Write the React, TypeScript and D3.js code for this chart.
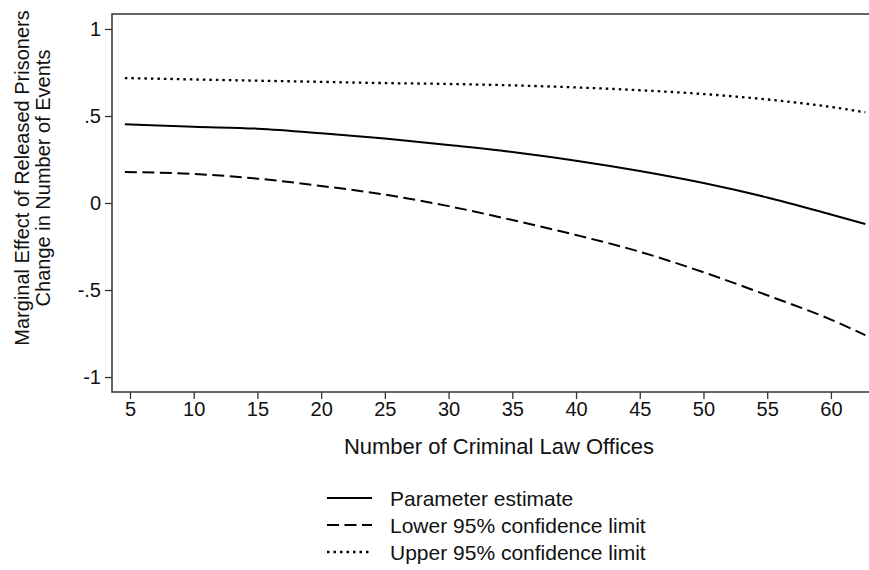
import React, { useEffect, useRef } from "react";
import * as d3 from "d3";

// number of criminal law offices (x) at which the curves were read
const offices = [4.6, 10, 15, 20, 25, 30, 35, 40, 45, 50, 55, 60, 62.7];
// marginal effect: estimate and 95% limits
const estimate = [0.452, 0.438, 0.427, 0.401, 0.37, 0.333, 0.293, 0.243, 0.184, 0.115, 0.032, -0.066, -0.121];
const lower = [0.178, 0.167, 0.14, 0.098, 0.048, -0.018, -0.098, -0.184, -0.28, -0.398, -0.53, -0.67, -0.76];
const upper = [0.718, 0.71, 0.703, 0.696, 0.689, 0.684, 0.676, 0.664, 0.648, 0.626, 0.595, 0.552, 0.521];

const xTicks = [5, 10, 15, 20, 25, 30, 35, 40, 45, 50, 55, 60];
const yTicks = [-1, -0.5, 0, 0.5, 1];
const yTickLabels = ["-1", "-.5", "0", ".5", "1"];

const legendLabels = ["Parameter estimate", "Lower 95% confidence limit", "Upper 95% confidence limit"];
const dashes = ["none", "12,5.5", "2.5,4"];

const FONT = "'Liberation Sans', Arial, Helvetica, sans-serif";

export default function App() {
  const svgRef = useRef<SVGSVGElement>(null);

  const W = 869;
  const H = 570;
  const left = 112, right = 887, top = 14, bottom = 392;

  const x = d3.scaleLinear().domain([3.59, 64.4]).range([left, right]);
  const y = d3.scaleLinear().domain([-1.086, 1.086]).range([bottom, top]);

  useEffect(() => {
    const svg = d3.select(svgRef.current);
    svg.selectAll("*").remove();

    // frame
    svg.append("rect")
      .attr("x", left).attr("y", top)
      .attr("width", right - left).attr("height", bottom - top)
      .attr("fill", "none").attr("stroke", "#333").attr("stroke-width", 1.5);

    // y axis
    const yAxis = d3.axisLeft(y)
      .tickValues(yTicks)
      .tickSize(7)
      .tickPadding(4)
      .tickFormat((d, i) => yTickLabels[i]);
    const gy = svg.append("g").attr("transform", `translate(${left},0)`).call(yAxis);
    gy.select(".domain").remove();
    gy.selectAll("line").attr("stroke", "#333").attr("stroke-width", 1.3);
    gy.selectAll("text").attr("font-family", FONT).attr("font-size", 20).attr("fill", "#111");

    // x axis
    const xAxis = d3.axisBottom(x).tickValues(xTicks).tickSize(7).tickPadding(3);
    const gx = svg.append("g").attr("transform", `translate(0,${bottom})`).call(xAxis);
    gx.select(".domain").remove();
    gx.selectAll("line").attr("stroke", "#333").attr("stroke-width", 1.3);
    gx.selectAll("text").attr("font-family", FONT).attr("font-size", 20).attr("fill", "#111");

    // lines
    const line = d3.line<number>()
      .x((d, i) => x(offices[i]))
      .y(d => y(d))
      .curve(d3.curveMonotoneX);

    [estimate, lower, upper].forEach((s, i) => {
      svg.append("path")
        .attr("d", line(s))
        .attr("fill", "none")
        .attr("stroke", "#000")
        .attr("stroke-width", i === 2 ? 2.3 : 2)
        .attr("stroke-dasharray", dashes[i]);
    });

    // axis titles
    svg.append("text")
      .attr("x", 499).attr("y", 454)
      .attr("text-anchor", "middle")
      .attr("font-family", FONT).attr("font-size", 22).attr("fill", "#111")
      .text("Number of Criminal Law Offices");

    const yTitle = svg.append("g").attr("transform", "translate(0,178) rotate(-90)");
    yTitle.append("text")
      .attr("x", 0).attr("y", 29)
      .attr("text-anchor", "middle")
      .attr("font-family", FONT).attr("font-size", 20).attr("fill", "#111")
      .text("Marginal Effect of Released Prisoners");
    yTitle.append("text")
      .attr("x", 0).attr("y", 50)
      .attr("text-anchor", "middle")
      .attr("font-family", FONT).attr("font-size", 20).attr("fill", "#111")
      .text("Change in Number of Events");

    // legend
    const lg = svg.append("g");
    legendLabels.forEach((lab, i) => {
      const ly = 498 + i * 27;
      lg.append("line")
        .attr("x1", 327).attr("x2", 372).attr("y1", ly).attr("y2", ly)
        .attr("stroke", "#000").attr("stroke-width", i === 2 ? 2.3 : 2)
        .attr("stroke-dasharray", dashes[i]);
      lg.append("text")
        .attr("x", 390).attr("y", ly + 7.5)
        .attr("font-family", FONT).attr("font-size", 21).attr("fill", "#111")
        .text(lab);
    });
  }, []);

  return (
    <svg
      ref={svgRef}
      width={W}
      height={H}
      style={{ position: "absolute", left: 0, top: 0, background: "#fff" }}
    />
  );
}
